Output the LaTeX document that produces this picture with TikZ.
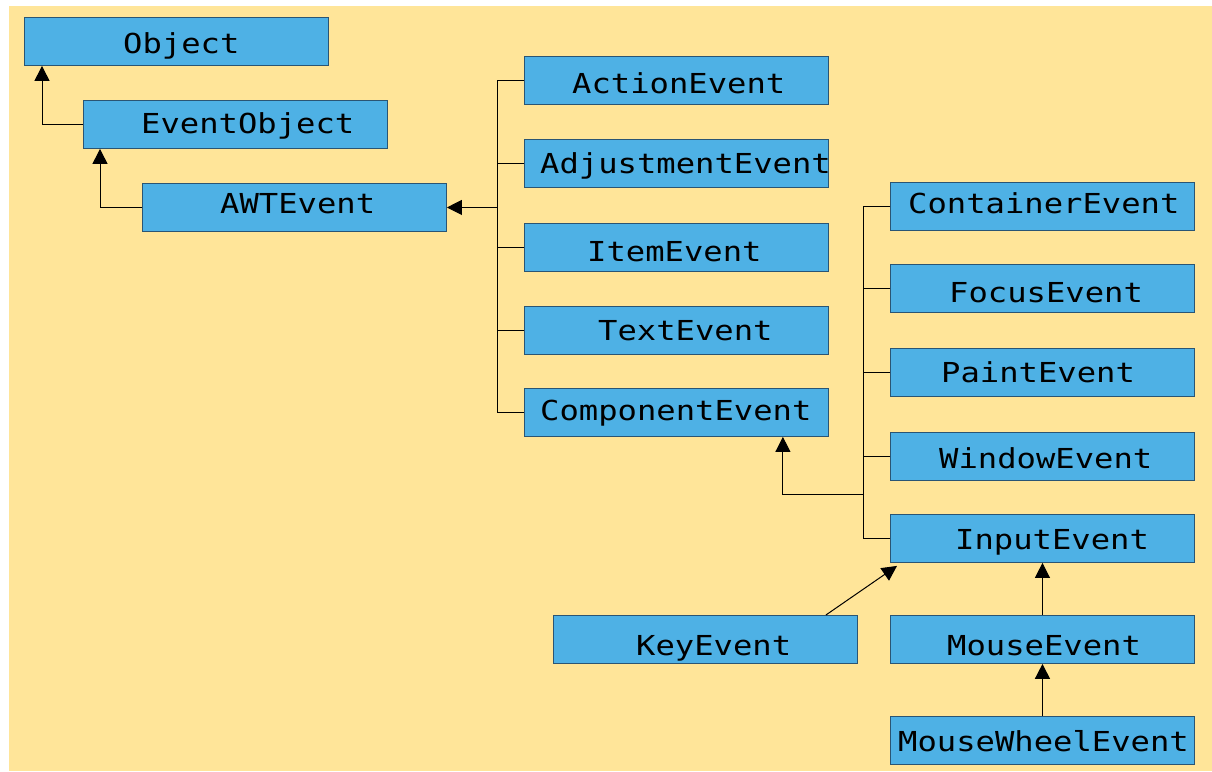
\documentclass[tikz,border=0pt]{standalone}
\usepackage{fontspec}
\newfontfamily\boxfont[FakeStretch=1.17]{DejaVu Sans Mono}
\usetikzlibrary{arrows.meta,calc}
\definecolor{bgy}{HTML}{FFE599}
\definecolor{boxb}{HTML}{4EB1E5}
\definecolor{boxe}{HTML}{2A5574}
\begin{document}
\begin{tikzpicture}[x=1pt,y=-1pt,
  cls/.style={draw=boxe, line width=0.9pt, fill=boxb, minimum width=304pt, minimum height=48pt, inner sep=0pt, anchor=north west},
  lbl/.style={anchor=base west, inner sep=0pt, font=\boxfont\fontsize{27.5}{30}\selectfont},
  conn/.style={line width=1pt, black},
  inh/.style={conn, -{Triangle[length=15pt,width=15pt]}}]
\useasboundingbox (0,0) rectangle (1212,771);
\fill[white] (0,0) rectangle (1212,771);
\fill[bgy] (9,6) rectangle (1212,771);
% boxes
\node[cls] (obj) at (24,17) {};
\node[cls] (eo) at (83,100) {};
\node[cls] (awt) at (142,183) {};
\node[cls] (act) at (524,56) {};
\node[cls] (adj) at (524,139) {};
\node[cls] (item) at (524,223) {};
\node[cls] (text) at (524,306) {};
\node[cls] (comp) at (524,388) {};
\node[cls] (cont) at (890,182) {};
\node[cls] (focus) at (890,264) {};
\node[cls] (paint) at (890,348) {};
\node[cls] (window) at (890,432) {};
\node[cls] (input) at (890,514) {};
\node[cls] (key) at (553,615) {};
\node[cls] (mouse) at (890,615) {};
\node[cls] (wheel) at (890,716) {};
% labels
\node[lbl] (tobj) at (123,53) {Object};
\node[lbl] (teo) at (141,133) {EventObject};
\node[lbl] (tawt) at (220,213) {AWTEvent};
\node[lbl] (tact) at (572,93) {ActionEvent};
\node[lbl] (tadj) at (540,173) {AdjustmentEvent};
\node[lbl] (titem) at (587,261) {ItemEvent};
\node[lbl] (ttext) at (598,340) {TextEvent};
\node[lbl] (tcomp) at (540,420) {ComponentEvent};
\node[lbl] (tcont) at (908,213) {ContainerEvent};
\node[lbl] (tfocus) at (949,302) {FocusEvent};
\node[lbl] (tpaint) at (941,382) {PaintEvent};
\node[lbl] (twindow) at (939,468) {WindowEvent};
\node[lbl] (tinput) at (955,549) {InputEvent};
\node[lbl] (tkey) at (636,655) {KeyEvent};
\node[lbl] (tmouse) at (947,655) {MouseEvent};
\node[lbl] (twheel) at (898,751) {MouseWheelEvent};
% connectors
\draw[inh] (eo.west) -| ($(obj.south west)+(18,0)$);
\draw[inh] (awt.west) -| ($(eo.south west)+(17,0)$);
% bus 1
\coordinate (b1top) at ($(act.west)+(-27,0)$);
\coordinate (b1) at (b1top |- awt.east);
\draw[conn] (act.west) -- (b1top) |- (comp.west);
\draw[conn] (adj.west) -- ++(-27,0);
\draw[conn] (item.west) -- ++(-27,0);
\draw[conn] (text.west) -- ++(-27,0);
\draw[inh] (b1) -- (awt.east);
% bus 2
\coordinate (b2top) at ($(cont.west)+(-27,0)$);
\draw[conn] (cont.west) -- (b2top) |- (input.west);
\draw[conn] (focus.west) -- ++(-27,0);
\draw[conn] (paint.west) -- ++(-27,0);
\draw[conn] (window.west) -- ++(-27,0);
\coordinate (b2m) at ($(input.north west)+(-27,-20)$);
\draw[inh] (b2m) -| ($(comp.south east)+(-46,0)$);
% input subclasses
\draw[inh] ($(key.north east)+(-32,0)$) -- ($(input.south west)+(7,3)$);
\draw[inh] (mouse.north) -- (input.south);
\draw[inh, line width=1.5pt] (wheel.north) -- (mouse.south);
\end{tikzpicture}
\end{document}
